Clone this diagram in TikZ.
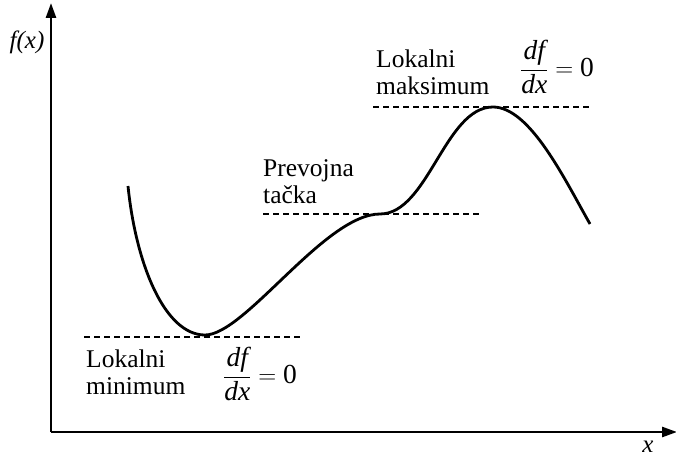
\documentclass[tikz,border=0pt]{standalone}
\usepackage{fontspec}
\setmainfont{Liberation Serif}
\usetikzlibrary{arrows.meta}

\tikzset{
  axis/.style={line width=2.6pt,-{Triangle[length=15pt,width=10pt]}},
  curveline/.style={line width=2.8pt},
  levelline/.style={line width=1.2pt,dash pattern=on 6pt off 4pt},
  txt/.style={font=\fontsize{25.5}{27}\selectfont,inner sep=0pt,align=left,anchor=base west},
  deriv/.style={font=\fontsize{27.5}{30}\selectfont,inner sep=0pt}
}
\newcommand{\zeroderiv}{$\displaystyle\frac{\textit{df}}{\textit{dx}}=\mbox{0}$}

\begin{document}
\begin{tikzpicture}[x=1pt,y=-1pt]
\useasboundingbox (0,0) rectangle (676,457);

\coordinate (o) at (51,432);
\coordinate (ytip) at (51,3);
\coordinate (xtip) at (677,432);
\draw[axis] (o) -- (ytip);
\draw[axis] (o) -- (xtip);
\node[deriv,font=\fontsize{25}{28}\selectfont\itshape] (fx) at (27,42) {f(x)};
\node[deriv,font=\fontsize{25}{28}\selectfont\itshape] (xl) at (648,447) {x};

% curve points
\coordinate (start) at (128,186);
\coordinate (lmin) at (205,335);
\coordinate (infl) at (380,214);
\coordinate (lmax) at (493,107);
\coordinate (stop) at (590,224);

\draw[curveline] (start) .. controls (136,265) and (165,335) .. (lmin)
  .. controls (245,335) and (325,214) .. (infl)
  .. controls (428,214) and (445,107) .. (lmax)
  .. controls (530,107) and (565,180) .. (stop);

% horizontal tangents
\coordinate (min a) at (84,337);
\coordinate (min b) at (300,337);
\coordinate (inf a) at (263,214);
\coordinate (inf b) at (480,214);
\coordinate (max a) at (373,107);
\coordinate (max b) at (590,107);
\draw[levelline] (min a) -- (min b);
\draw[levelline] (inf a) -- (inf b);
\draw[levelline] (max a) -- (max b);

\node[txt] (maxtext) at (376,95) {Lokalni\\maksimum};
\node[deriv] (maxder) at (557,67) {\zeroderiv};
\node[txt] (inftext) at (263,203) {Prevojna\\tačka};
\node[txt] (mintext) at (86,394) {Lokalni\\minimum};
\node[deriv] (minder) at (260,374) {\zeroderiv};
\end{tikzpicture}
\end{document}
